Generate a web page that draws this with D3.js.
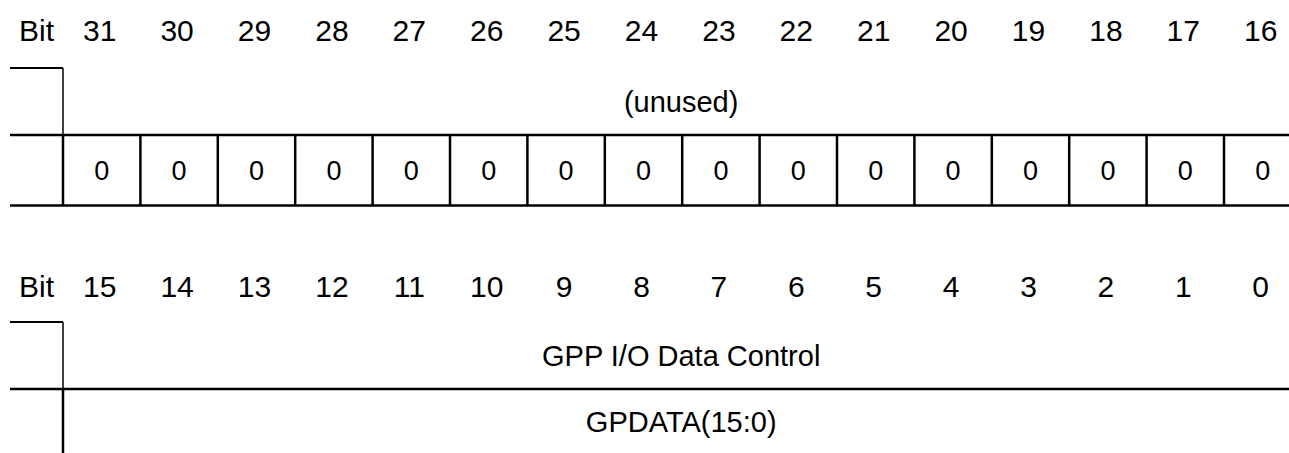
<!DOCTYPE html>
<html>
<head>
<meta charset="utf-8">
<script src="https://cdn.jsdelivr.net/npm/d3@7"></script>
<style>
  html, body { margin: 0; padding: 0; background: #fff; }
  svg { display: block; }
  text { font-family: "Liberation Sans", Arial, sans-serif; fill: #000; }
</style>
</head>
<body>
<svg id="chart" width="1289" height="453"></svg>
<script>
// ---- data ----
const bitsHigh = [31, 30, 29, 28, 27, 26, 25, 24, 23, 22, 21, 20, 19, 18, 17, 16];
const bitsLow = [15, 14, 13, 12, 11, 10, 9, 8, 7, 6, 5, 4, 3, 2, 1, 0];
const resetHigh = [0, 0, 0, 0, 0, 0, 0, 0, 0, 0, 0, 0, 0, 0, 0, 0];
const fieldHigh = "(unused)";
const fieldLow = "GPP I/O Data Control";
const fieldLowName = "GPDATA(15:0)";
const bitLabel = "Bit";

// ---- layout ----
const svg = d3.select("#chart");
const left = 10, cellStart = 63, cellW = 77.4;
const headerSize = 30, fieldSize = 29, cellSize = 27;

function section(g, bits, headerY, boxTop, rowMid, rowBottom, fieldName, secondRow, showBottom) {
  const x = d3.scaleBand().domain(bits).range([cellStart, cellStart + cellW * bits.length]).paddingInner(0).paddingOuter(0);
  const xEnd = cellStart + cellW * bits.length;
  const fieldX = (cellStart + xEnd) / 2 - 1;

  // header
  g.append("text").attr("x", (left + cellStart) / 2).attr("y", headerY)
    .attr("text-anchor", "middle").style("font-size", headerSize + "px").text(bitLabel);
  g.selectAll("text.bit").data(bits).join("text").attr("class", "bit")
    .attr("x", d => x(d) + x.bandwidth() / 2 - 2).attr("y", headerY)
    .attr("text-anchor", "middle").style("font-size", headerSize + "px").text(d => d);

  // field name box (top row)
  g.append("line").attr("x1", left).attr("x2", cellStart).attr("y1", boxTop).attr("y2", boxTop)
    .attr("stroke", "#000").attr("stroke-width", 2);
  g.append("line").attr("x1", cellStart).attr("x2", cellStart).attr("y1", boxTop).attr("y2", rowMid)
    .attr("stroke", "#000").attr("stroke-width", 1.5);
  g.append("text").attr("x", fieldX).attr("y", (boxTop + rowMid) / 2)
    .attr("dy", "0.35em").attr("text-anchor", "middle").style("font-size", fieldSize + "px").text(fieldName);

  // row separators
  g.append("line").attr("x1", left).attr("x2", xEnd).attr("y1", rowMid).attr("y2", rowMid)
    .attr("stroke", "#000").attr("stroke-width", 2.5);
  if (showBottom) {
    g.append("line").attr("x1", left).attr("x2", xEnd).attr("y1", rowBottom).attr("y2", rowBottom)
      .attr("stroke", "#000").attr("stroke-width", 2.5);
  }

  // second row
  if (Array.isArray(secondRow)) {
    const dividers = bits.map(b => x(b));
    g.selectAll("line.div").data(dividers).join("line").attr("class", "div")
      .attr("x1", d => d).attr("x2", d => d).attr("y1", rowMid).attr("y2", rowBottom)
      .attr("stroke", "#000").attr("stroke-width", 2.5);
    g.selectAll("text.val").data(bits.map((b, i) => ({ b, v: secondRow[i] }))).join("text").attr("class", "val")
      .attr("x", d => x(d.b) + x.bandwidth() / 2).attr("y", (rowMid + rowBottom) / 2)
      .attr("dy", "0.35em").attr("text-anchor", "middle").style("font-size", cellSize + "px").text(d => d.v);
  } else {
    g.append("line").attr("x1", cellStart).attr("x2", cellStart).attr("y1", rowMid).attr("y2", rowBottom)
      .attr("stroke", "#000").attr("stroke-width", 2.5);
    g.append("text").attr("x", fieldX).attr("y", (rowMid + rowBottom) / 2 - 1)
      .attr("dy", "0.35em").attr("text-anchor", "middle").style("font-size", fieldSize + "px").text(secondRow);
  }
}

section(svg.append("g"), bitsHigh, 41, 68, 135, 205.5, fieldHigh, resetHigh, true);
section(svg.append("g"), bitsLow, 297, 322, 389, 456, fieldLow, fieldLowName, false);
</script>
</body>
</html>
